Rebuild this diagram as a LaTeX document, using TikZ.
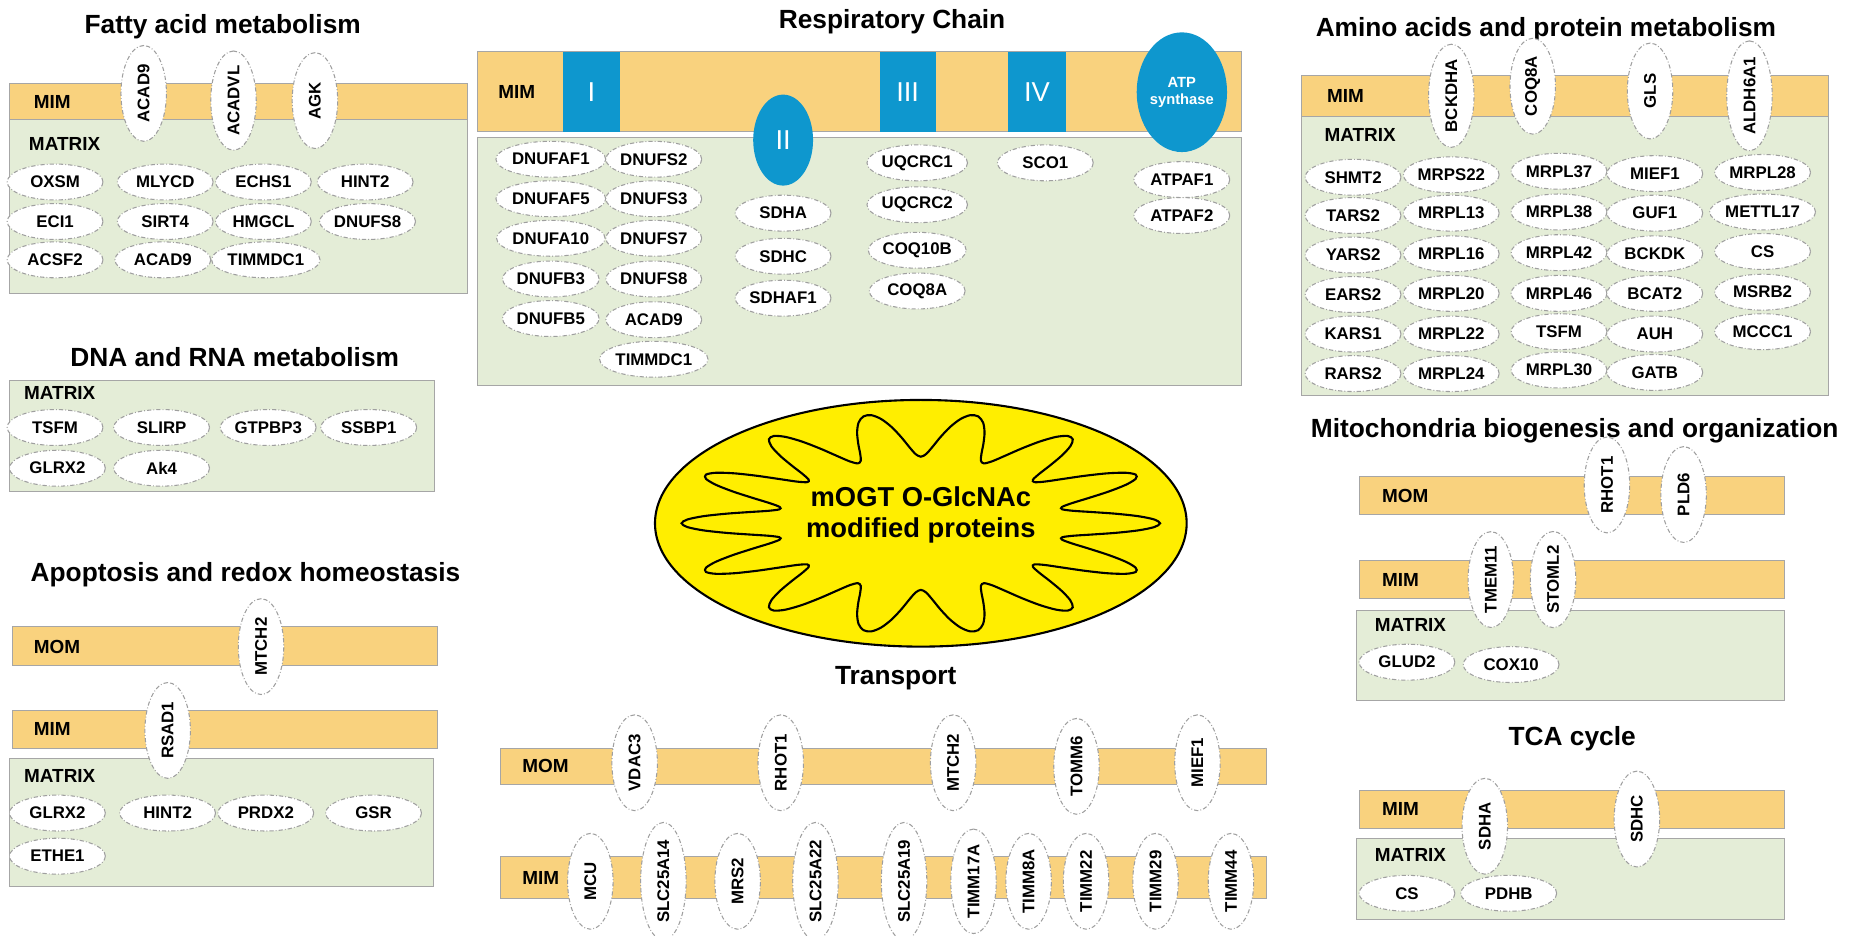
\documentclass[tikz,border=0pt]{standalone}
\usepackage{fontspec}
\setmainfont{Liberation Sans}
\usetikzlibrary{shapes.geometric}
\definecolor{memb}{HTML}{F9D27E}
\definecolor{matx}{HTML}{E4EDD7}
\definecolor{cplx}{HTML}{0E97CE}
\definecolor{mito}{HTML}{FFEE00}
\tikzset{
 pel/.style={ellipse,draw=gray!75,fill=white,line width=0.5pt,dash pattern=on 2pt off 1pt on 0.4pt off 1pt,inner sep=0pt,font=\fontsize{8}{9}\selectfont\bfseries},
 hel/.style={pel,minimum width=1.6cm,minimum height=0.6cm},
 vel/.style={pel,minimum width=1.6cm,minimum height=0.76cm,rotate=90},
 ttl/.style={font=\fontsize{12.5}{14}\selectfont\bfseries},
 lab/.style={font=\fontsize{9}{10}\selectfont\bfseries,anchor=west},
 band/.style={fill=memb,draw=gray!70,line width=0.4pt},
 mat/.style={fill=matx,draw=gray!70,line width=0.4pt},
}
\newcommand\He[4]{\node[hel] (#1) at (#2,#3) {#4};}
\newcommand\Ve[4]{\node[vel] (#1) at (#2,#3) {#4};}
\begin{document}
\begin{tikzpicture}[x=0.02cm,y=-0.02cm]
\useasboundingbox (0,0) rectangle (1560,781);
% ---------- Fatty acid
\node[ttl] (t1) at (186,22) {Fatty acid metabolism};
\draw[mat] (8,100) rectangle (390,245);
\draw[band] (8,70) rectangle (390,100);
\node[lab] (l1) at (22,85) {MIM};
\node[lab] (l2) at (18,120) {MATRIX};
\Ve{fa1}{120}{78}{ACAD9}\Ve{fa2}{195}{84}{ACADVL}\Ve{fa3}{263}{84}{AGK}
\He{fa4}{46}{152}{OXSM}\He{fa5}{138}{152}{MLYCD}\He{fa6}{220}{152}{ECHS1}\He{fa7}{305}{152}{HINT2}
\He{fa8}{46}{185}{ECI1}\He{fa9}{138}{185}{SIRT4}\He{fa10}{220}{185}{HMGCL}\He{fa11}{307}{185}{DNUFS8}
\He{fa12}{46}{217}{ACSF2}\He{fa13}{136}{217}{ACAD9}\He{fa14}{222}{217}{TIMMDC1}
% ---------- DNA RNA
\node[ttl] (t2) at (196,298) {DNA and RNA metabolism};
\draw[mat] (8,318) rectangle (363,410);
\node[lab] (l3) at (14,328) {MATRIX};
\He{dn1}{46}{357}{TSFM}\He{dn2}{135}{357}{SLIRP}\He{dn3}{224}{357}{GTPBP3}\He{dn4}{308}{357}{SSBP1}
\He{dn5}{48}{391}{GLRX2}\He{dn6}{135}{391}{Ak4}
% ---------- Apoptosis
\node[ttl] (t3) at (205,480) {Apoptosis and redox homeostasis};
\draw[band] (10,523) rectangle (365,556);
\draw[band] (10,593) rectangle (365,625);
\draw[mat] (8,633) rectangle (362,740);
\node[lab] (l4) at (22,540) {MOM};
\node[lab] (l5) at (22,609) {MIM};
\node[lab] (l6) at (14,648) {MATRIX};
\Ve{ap1}{218}{540}{MTCH2}\Ve{ap2}{140}{610}{RSAD1}
\He{ap3}{48}{679}{GLRX2}\He{ap4}{140}{679}{HINT2}\He{ap5}{222}{679}{PRDX2}\He{ap6}{312}{679}{GSR}
\He{ap7}{48}{715}{ETHE1}
% ---------- Respiratory chain
\node[ttl] (t4) at (745,18) {Respiratory Chain};
\draw[band] (399,43) rectangle (1037,110);
\draw[mat] (399,115) rectangle (1037,322);
\node[lab] (l7) at (410,77) {MIM};
\node[fill=cplx,minimum width=0.96cm,minimum height=1.34cm,inner sep=0,text=white,font=\fontsize{13}{14}\selectfont] (c1) at (494,77) {I};
\node[fill=cplx,minimum width=0.94cm,minimum height=1.34cm,inner sep=0,text=white,font=\fontsize{13}{14}\selectfont] (c3) at (758,77) {III};
\node[fill=cplx,minimum width=0.96cm,minimum height=1.34cm,inner sep=0,text=white,font=\fontsize{13}{14}\selectfont] (c4) at (866,77) {IV};
\node[ellipse,fill=cplx,minimum width=1.0cm,minimum height=1.52cm,inner sep=0,text=white,font=\fontsize{13}{14}\selectfont] (c2) at (654,117) {II};
\node[ellipse,fill=cplx,minimum width=1.28cm,minimum height=2.0cm,inner sep=0,text=white,align=center,font=\fontsize{7}{8}\selectfont\bfseries] (c5) at (987,77) {ATP\\synthase};
\He{r1}{460}{133}{DNUFAF1}\He{r2}{460}{166}{DNUFAF5}\He{r3}{460}{199}{DNUFA10}\He{r4}{460}{233}{DNUFB3}\He{r5}{460}{266}{DNUFB5}
\He{r6}{546}{133}{DNUFS2}\He{r7}{546}{166}{DNUFS3}\He{r8}{546}{199}{DNUFS7}\He{r9}{546}{233}{DNUFS8}\He{r10}{546}{267}{ACAD9}\He{r11}{546}{300}{TIMMDC1}
\He{r12}{654}{178}{SDHA}\He{r13}{654}{214}{SDHC}\He{r14}{654}{249}{SDHAF1}
\He{r15}{766}{136}{UQCRC1}\He{r16}{766}{171}{UQCRC2}\He{r17}{766}{209}{COQ10B}\He{r18}{766}{243}{COQ8A}
\He{r19}{873}{136}{SCO1}\He{r20}{987}{150}{ATPAF1}\He{r21}{987}{180}{ATPAF2}
% ---------- Amino acids
\node[ttl] (t5) at (1291,25) {Amino acids and protein metabolism};
\draw[mat] (1087,97) rectangle (1527,330);
\draw[band] (1087,63) rectangle (1527,97);
\node[lab] (l8) at (1102,80) {MIM};
\node[lab] (l9) at (1100,113) {MATRIX};
\Ve{aa1}{1212}{80}{BCKDHA}\Ve{aa2}{1280}{72}{COQ8A}\Ve{aa3}{1378}{76}{GLS}\Ve{aa4}{1461}{80}{ALDH6A1}
\He{a1}{1130}{148}{SHMT2}\He{a2}{1130}{180}{TARS2}\He{a3}{1130}{213}{YARS2}\He{a4}{1130}{246}{EARS2}\He{a5}{1130}{279}{KARS1}\He{a6}{1130}{312}{RARS2}
\He{a7}{1212}{146}{MRPS22}\He{a8}{1212}{178}{MRPL13}\He{a9}{1212}{212}{MRPL16}\He{a10}{1212}{245}{MRPL20}\He{a11}{1212}{279}{MRPL22}\He{a12}{1212}{312}{MRPL24}
\He{a13}{1302}{143}{MRPL37}\He{a14}{1302}{177}{MRPL38}\He{a15}{1302}{211}{MRPL42}\He{a16}{1302}{245}{MRPL46}\He{a17}{1302}{277}{TSFM}\He{a18}{1302}{309}{MRPL30}
\He{a19}{1382}{145}{MIEF1}\He{a20}{1382}{178}{GUF1}\He{a21}{1382}{212}{BCKDK}\He{a22}{1382}{245}{BCAT2}\He{a23}{1382}{279}{AUH}\He{a24}{1382}{311}{GATB}
\He{a25}{1472}{144}{MRPL28}\He{a26}{1472}{177}{METTL17}\He{a27}{1472}{210}{CS}\He{a28}{1472}{244}{MSRB2}\He{a29}{1472}{277}{MCCC1}
% ---------- Biogenesis
\node[ttl] (t6) at (1315,360) {Mitochondria biogenesis and organization};
\draw[band] (1135,398) rectangle (1490,430);
\draw[band] (1135,468) rectangle (1490,500);
\draw[mat] (1133,510) rectangle (1490,585);
\node[lab] (l10) at (1148,414) {MOM};
\node[lab] (l11) at (1148,484) {MIM};
\node[lab] (l12) at (1142,522) {MATRIX};
\Ve{b1}{1342}{405}{RHOT1}\Ve{b2}{1406}{413}{PLD6}\Ve{b3}{1245}{484}{TMEM11}\Ve{b4}{1297}{484}{STOML2}
\He{b5}{1175}{553}{GLUD2}\He{b6}{1262}{555}{COX10}
% ---------- TCA
\node[ttl] (t7) at (1313,617) {TCA cycle};
\draw[band] (1135,660) rectangle (1490,692);
\draw[mat] (1133,700) rectangle (1490,768);
\node[lab] (l13) at (1148,676) {MIM};
\node[lab] (l14) at (1142,714) {MATRIX};
\Ve{tc1}{1240}{690}{SDHA}\Ve{tc2}{1367}{684}{SDHC}
\He{tc3}{1175}{746}{CS}\He{tc4}{1260}{746}{PDHB}
% ---------- Transport
\node[ttl] (t8) at (748,566) {Transport};
\draw[band] (418,625) rectangle (1058,655);
\draw[band] (418,715) rectangle (1058,750);
\node[lab] (l15) at (430,640) {MOM};
\node[lab] (l16) at (430,733) {MIM};
\Ve{tr1}{530}{637}{VDAC3}\Ve{tr2}{652}{637}{RHOT1}\Ve{tr3}{796}{637}{MTCH2}\Ve{tr4}{899}{640}{TOMM6}\Ve{tr5}{1000}{637}{MIEF1}
\Ve{tr6}{493}{736}{MCU}\Ve{tr7}{554}{736}{SLC25A14}\Ve{tr8}{616}{736}{MRS2}\Ve{tr9}{681}{736}{SLC25A22}\Ve{tr10}{755}{736}{SLC25A19}
\Ve{tr11}{813}{736}{TIMM17A}\Ve{tr12}{859}{736}{TIMM8A}\Ve{tr13}{907}{736}{TIMM22}\Ve{tr14}{965}{736}{TIMM29}\Ve{tr15}{1028}{736}{TIMM44}
% ---------- Mitochondrion
\draw[fill=mito,line width=1pt] (769,437) ellipse [x radius=222, y radius=103];
\draw[line width=1pt,smooth cycle] plot[domain=0:358,samples=180,variable=\t]
 ({769+222*(0.72+0.18*cos(14*\t))*cos(\t)},{437+103*(0.72+0.18*cos(14*\t))*sin(\t)});
\node[align=center,font=\fontsize{13}{15}\selectfont\bfseries] (mt) at (769,430) {mOGT O-GlcNAc\\modified proteins};
\end{tikzpicture}
\end{document}
